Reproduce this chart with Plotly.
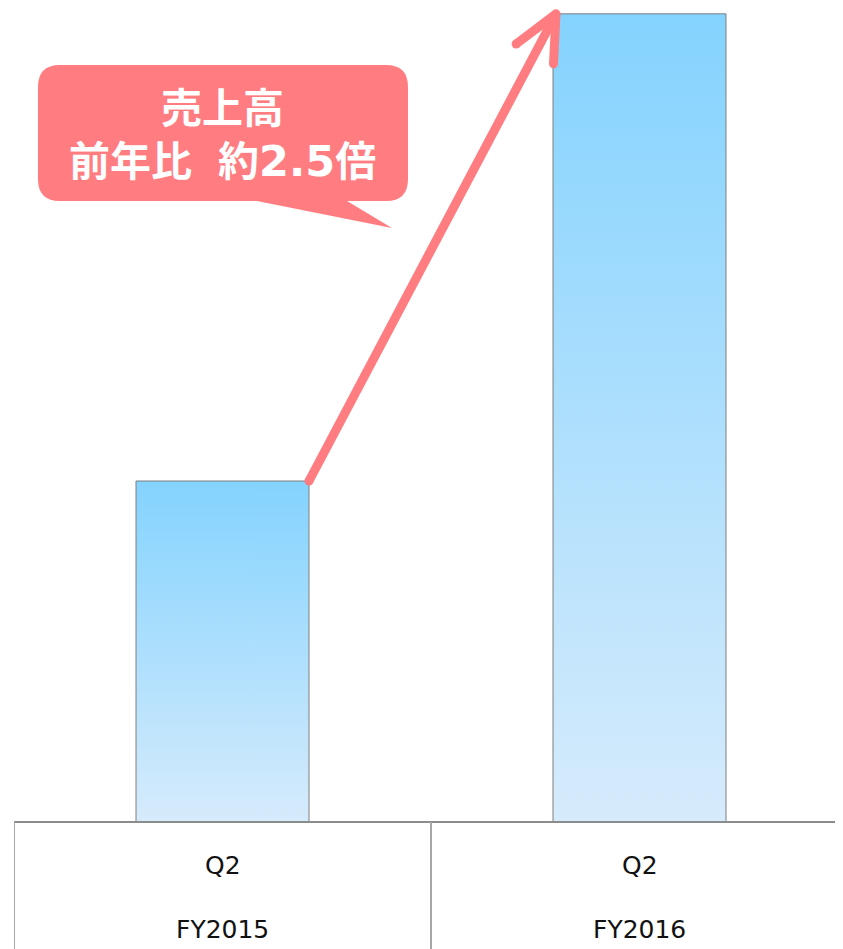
import math
import plotly.graph_objects as go

# ---- data ----
quarters = ["Q2", "Q2"]
fiscal_years = ["FY2015", "FY2016"]
sales = [100, 237]          # relative sales (FY2016 ≈ 2.4x FY2015)
callout_title = "売上高"
callout_prefix = "前年比"
callout_ratio = "約2.5倍"

# ---- layout constants (page pixels; the page body has an 8px margin) ----
OFF = 8
W, H = 843 - OFF, 949 - OFF
ML, MR, MT, MB = 14 - OFF, 0, 0, 127
PW, PH = W - ML - MR, H - MT - MB
CAT_PX = 417                       # pixels per category
X0 = -0.5
X1 = X0 + PW / CAT_PX
BAR_W = 173 / CAT_PX
Y1 = PH * sales[0] / 341.0

TOP_C = "#84D3FE"
BOT_C = "#D6EBFC"
PINK = "#FF7C80"
GRAY = "#8C8C8C"

# page-pixel <-> data / paper helpers
def px(x):
    return OFF + ML + (x - X0) / (X1 - X0) * PW


def py(y):
    return OFF + MT + PH - y / Y1 * PH


def dx(p):
    return X0 + (p - OFF - ML) / PW * (X1 - X0)


def dy(p):
    return (OFF + MT + PH - p) / PH * Y1


def paper_x(p):
    return (p - OFF - ML) / PW


def paper_y(p):
    return (OFF + MT + PH - p) / PH


fig = go.Figure()

# bars drawn as gradient-filled polygons
for i, v in enumerate(sales):
    xl, xr = i - BAR_W / 2, i + BAR_W / 2
    fig.add_trace(go.Scatter(
        x=[xl, xl, xr, xr, xl], y=[0, v, v, 0, 0],
        mode="lines", fill="toself",
        line=dict(color="#7F7F7F", width=1),
        fillgradient=dict(type="vertical",
                          colorscale=[[0, BOT_C], [1, TOP_C]]),
        hoverinfo="skip", showlegend=False,
    ))

# arrow from top-right of first bar to top-left of second bar
sx, sy = 0 + BAR_W / 2, sales[0]
tx, ty = 1 - BAR_W / 2, sales[1]
psx, psy, ptx, pty = px(sx), py(sy), px(tx), py(ty)
ptx += 3
ang = math.atan2(psy - pty, psx - ptx)
arm = 50
half = math.radians(25)
a1 = (ptx + arm * math.cos(ang + half), pty + arm * math.sin(ang + half))
a2 = (ptx + arm * math.cos(ang - half), pty + arm * math.sin(ang - half))

for xs, ys in [([psx, ptx], [psy, pty]),
               ([a1[0], ptx, a2[0]], [a1[1], pty, a2[1]])]:
    fig.add_trace(go.Scatter(
        x=[dx(p) for p in xs], y=[dy(p) for p in ys], mode="lines",
        line=dict(color=PINK, width=9), hoverinfo="skip", showlegend=False,
    ))
    fig.add_trace(go.Scatter(
        x=[dx(xs[0]), dx(xs[-1])], y=[dy(ys[0]), dy(ys[-1])], mode="markers",
        marker=dict(color=PINK, size=9, line=dict(width=0)),
        hoverinfo="skip", showlegend=False,
    ))

# callout box (rounded rectangle with tail)
L, T, R, B, r = 38, 65, 408, 201, 22
tail = [(257, B), (392, 228), (347, B)]


def P(x, y):
    return f"{paper_x(x):.5f},{paper_y(y):.5f}"


path = (f"M {P(L + r, T)} L {P(R - r, T)} Q {P(R, T)} {P(R, T + r)} "
        f"L {P(R, B - r)} Q {P(R, B)} {P(R - r, B)} "
        f"L {P(*tail[2])} L {P(*tail[1])} L {P(*tail[0])} "
        f"L {P(L + r, B)} Q {P(L, B)} {P(L, B - r)} "
        f"L {P(L, T + r)} Q {P(L, T)} {P(L + r, T)} Z")

shapes = [
    dict(type="path", xref="paper", yref="paper", path=path,
         fillcolor=PINK, line=dict(width=0), layer="above"),
    # axis baseline
    dict(type="line", xref="paper", yref="paper", x0=0, x1=1.02, y0=0, y1=0,
         line=dict(color=GRAY, width=2)),
]
# category dividers
for b in [X0, 0.5]:
    shapes.append(dict(type="line", xref="x", yref="paper", x0=b, x1=b,
                       y0=0, y1=-MB / PH - 0.01,
                       line=dict(color="#A6A6A6", width=2)))

ratio_html = callout_ratio.replace(
    "2.5", '<span style="font-family:DejaVu Sans;font-size:43px">2.5</span>')
annotations = [
    dict(xref="paper", yref="paper", x=paper_x(222), y=paper_y(131),
         text=("<b>" + callout_title + "<br>" + callout_prefix +
               '<span style="font-size:26px">\u3000</span>' + ratio_html +
               "</b>"),
         showarrow=False, xanchor="center", yanchor="middle",
         font=dict(family="Noto Sans CJK JP", size=41, color="white")),
]
for i in range(len(sales)):
    annotations.append(dict(xref="x", yref="paper", x=i, y=paper_y(866),
                            text=quarters[i], showarrow=False,
                            yanchor="middle",
                            font=dict(family="DejaVu Sans", size=25,
                                      color="#111111")))
    annotations.append(dict(xref="x", yref="paper", x=i, y=paper_y(929),
                            text=fiscal_years[i], showarrow=False,
                            yanchor="middle",
                            font=dict(family="DejaVu Sans", size=25,
                                      color="#111111")))

fig.update_layout(
    width=W, height=H,
    margin=dict(l=ML, r=MR, t=MT, b=MB, pad=0),
    paper_bgcolor="white", plot_bgcolor="white",
    xaxis=dict(range=[X0, X1], showgrid=False, zeroline=False,
               showticklabels=False, ticks="", showline=False, fixedrange=True),
    yaxis=dict(range=[0, Y1], showgrid=False, zeroline=False,
               showticklabels=False, ticks="", showline=False, fixedrange=True),
    shapes=shapes, annotations=annotations, showlegend=False,
)

fig.write_html("out.html", config={"displayModeBar": False})
